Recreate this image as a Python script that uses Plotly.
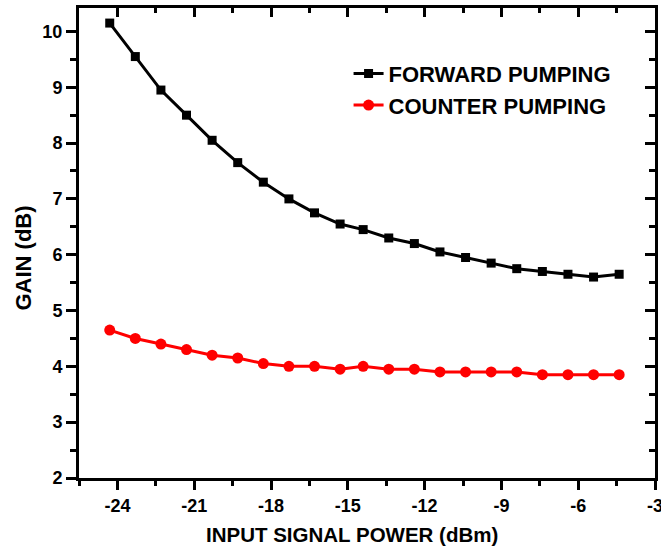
import plotly.graph_objects as go

input_power = [-24.3, -23.3, -22.3, -21.3, -20.3, -19.3, -18.3, -17.3, -16.3, -15.3,
               -14.4, -13.4, -12.4, -11.4, -10.4, -9.4, -8.4, -7.4, -6.4, -5.4, -4.4]
forward_gain = [10.15, 9.55, 8.95, 8.5, 8.05, 7.65, 7.3, 7.0, 6.75, 6.55,
                6.45, 6.3, 6.2, 6.05, 5.95, 5.85, 5.75, 5.7, 5.65, 5.6, 5.65]
counter_gain = [4.65, 4.5, 4.4, 4.3, 4.2, 4.15, 4.05, 4.0, 4.0, 3.95,
                4.0, 3.95, 3.95, 3.9, 3.9, 3.9, 3.9, 3.85, 3.85, 3.85, 3.85]

x_range = [-25.5, -3]
y_range = [2, 10.42]
x_ticks = [-24, -21, -18, -15, -12, -9, -6, -3]
x_ticktext = ["-24", "-21", "-18", "-15", "-12", "-9", "-6", "-3"]
y_ticks = [2, 3, 4, 5, 6, 7, 8, 9, 10]
y_ticktext = ["2", "3", "4", "5", "6", "7", "8", "9", "10"]
x_title = "INPUT SIGNAL POWER (dBm)"
y_title = "GAIN (dB)"

FONT = "Liberation Sans, Arial, sans-serif"
b = lambda s: "<b>" + s + "</b>"

fig = go.Figure()
fig.add_trace(go.Scatter(
    x=input_power, y=forward_gain, name=b("FORWARD PUMPING"), mode="lines+markers",
    line=dict(color="black", width=3),
    marker=dict(symbol="square", size=9, color="black"),
    legendgroup="a"))
fig.add_trace(go.Scatter(
    x=input_power, y=counter_gain, name=b("COUNTER PUMPING"), mode="lines+markers",
    line=dict(color="#ff0000", width=3),
    marker=dict(symbol="circle", size=11, color="#ff0000"),
    legendgroup="b"))
# invisible trace to anchor mirrored axes (top/right, inward ticks)
fig.add_trace(go.Scatter(x=[x_range[0]], y=[y_range[0]], xaxis="x2", yaxis="y2",
                         mode="markers", marker=dict(opacity=0), showlegend=False,
                         hoverinfo="skip"))

tickfont = dict(family=FONT, size=18, color="black")
common = dict(showgrid=False, zeroline=False, showline=True, linecolor="black",
              linewidth=3, tickcolor="black", tickwidth=2.5, automargin=False)
minor_common = dict(tickwidth=2.5, tickcolor="black")

fig.update_layout(
    width=661, height=552,
    margin=dict(l=79, r=6, t=8, b=74, autoexpand=False),
    paper_bgcolor="white", plot_bgcolor="white",
    showlegend=True,
    legend=dict(x=0.468, y=0.905, xanchor="left", yanchor="top",
                font=dict(family=FONT, size=22, color="black"),
                bgcolor="rgba(0,0,0,0)", tracegroupgap=0, traceorder="grouped"),
    xaxis=dict(range=x_range, tickvals=x_ticks, ticktext=[b(t) for t in x_ticktext],
               ticks="outside", ticklen=9, tickfont=tickfont, ticklabeloverflow="allow",
               minor=dict(ticks="outside", ticklen=5, dtick=1.5, tick0=-24, **minor_common),
               **common),
    yaxis=dict(range=y_range, tickvals=y_ticks, ticktext=[b(t) for t in y_ticktext],
               ticks="outside", ticklen=10, tickfont=tickfont,
               minor=dict(ticks="outside", ticklen=6, dtick=0.5, tick0=2, **minor_common),
               **common),
    xaxis2=dict(range=x_range, overlaying="x", side="top", anchor="y2",
                tickvals=x_ticks, ticks="inside", ticklen=9, showticklabels=False,
                minor=dict(ticks="inside", ticklen=5, dtick=1.5, tick0=-24, **minor_common),
                **common),
    yaxis2=dict(range=y_range, overlaying="y", side="right", anchor="x2",
                tickvals=y_ticks, ticks="inside", ticklen=10, showticklabels=False,
                minor=dict(ticks="inside", ticklen=6, dtick=0.5, tick0=2, **minor_common),
                **common),
    annotations=[
        dict(text=b(x_title), xref="paper", yref="paper", x=0.474, y=-0.121,
             xanchor="center", yanchor="middle", showarrow=False,
             font=dict(family=FONT, size=20.5, color="black")),
        dict(text=b(y_title), xref="paper", yref="paper", x=-0.0955, y=0.469,
             xanchor="center", yanchor="middle", showarrow=False, textangle=-90,
             font=dict(family=FONT, size=22, color="black")),
    ],
)

fig.write_html("out.html")
